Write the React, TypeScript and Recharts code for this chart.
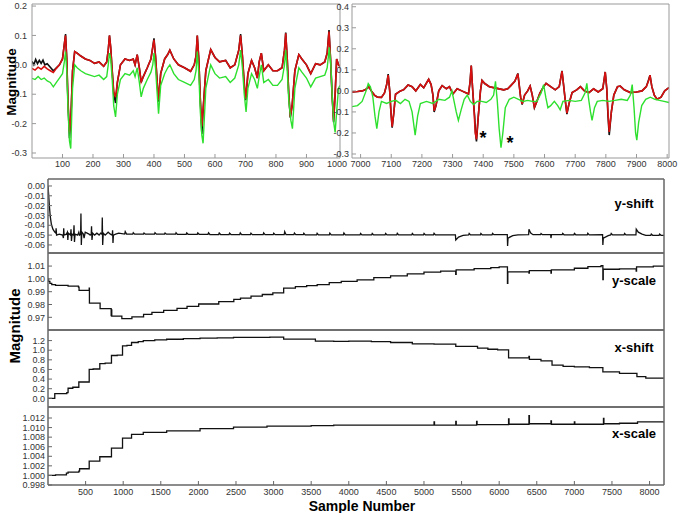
import { LineChart, Line, XAxis, YAxis } from 'recharts';

type Pt = [number, number];

const FONT = '"Liberation Sans", Arial, Helvetica, sans-serif';

// ---- top left window: samples 0..1000 ----
const TL_X_TICKS = [100, 200, 300, 400, 500, 600, 700, 800, 900, 1000];
const TL_Y_TICKS = [-0.3, -0.2, -0.1, 0, 0.1, 0.2];

const TL_BLACK: Pt[] = [
  [0, 0.012], [6, 0.0], [12, 0.018], [18, 0.004], [24, 0.015], [30, 0.005], [36, 0.016], [42, 0.0],
  [50, 0.004], [60, -0.008], [70, -0.02], [80, -0.01], [90, 0.0], [100, 0.02], [106, 0.07], [110, 0.105],
  [114, 0.02], [118, -0.13], [123, -0.25], [128, -0.17], [133, -0.02], [140, 0.045], [148, 0.04],
  [160, 0.03], [175, 0.02], [190, 0.015], [205, 0.005], [220, 0.01], [235, -0.005], [245, 0.01],
  [250, 0.05], [254, 0.1], [258, 0.06], [263, -0.02], [268, -0.1], [274, -0.13], [280, -0.06],
  [290, 0.0], [305, 0.02], [320, 0.015], [332, 0.02], [338, 0.0], [345, 0.035], [352, -0.01],
  [358, -0.06], [365, -0.04], [378, -0.01], [390, 0.02], [396, 0.06], [400, 0.09], [405, 0.03],
  [410, -0.05], [415, -0.125], [422, -0.03], [435, 0.02], [445, 0.035], [452, 0.05], [465, 0.02],
  [480, 0.0], [500, -0.01], [520, -0.022], [532, 0.0], [538, 0.03], [542, 0.1], [547, 0.02],
  [552, -0.12], [557, -0.235], [562, -0.14], [570, -0.02], [586, 0.052], [600, 0.025], [615, 0.01],
  [635, 0.015], [650, -0.01], [665, 0.0], [678, 0.05], [684, 0.105], [690, 0.03], [696, -0.07],
  [701, -0.12], [708, -0.03], [720, 0.015], [730, -0.01], [739, -0.045], [745, 0.01], [752, 0.04],
  [760, -0.02], [775, 0.0], [790, -0.02], [805, -0.02], [820, -0.01], [828, 0.05], [832, 0.11],
  [837, 0.02], [842, -0.1], [847, -0.18], [853, -0.14], [862, -0.02], [875, 0.035], [885, 0.02],
  [900, 0.0], [914, -0.03], [930, 0.004], [945, 0.0], [960, 0.01], [968, 0.04], [974, 0.118],
  [979, 0.02], [984, -0.1], [989, -0.195], [994, -0.1], [999, 0.02], [1005, 0.0], [1010, -0.005],
];

const TL_RED: Pt[] = [
  [0, -0.012], [10, -0.018], [20, -0.008], [30, -0.015], [40, -0.005], [50, -0.014], [60, -0.02],
  [70, -0.026], [80, -0.012], [90, 0.0], [100, 0.02], [106, 0.07], [110, 0.1], [114, 0.02],
  [118, -0.12], [123, -0.23], [128, -0.17], [133, -0.02], [140, 0.045], [148, 0.04], [160, 0.03],
  [175, 0.02], [190, 0.015], [205, 0.005], [220, 0.01], [235, -0.005], [245, 0.01], [250, 0.05],
  [254, 0.1], [258, 0.06], [263, -0.02], [268, -0.09], [274, -0.11], [280, -0.06], [290, 0.0],
  [305, 0.02], [320, 0.015], [332, 0.02], [338, 0.0], [345, 0.035], [352, -0.01], [358, -0.058],
  [365, -0.04], [378, -0.01], [390, 0.02], [396, 0.06], [400, 0.085], [405, 0.03], [410, -0.05],
  [415, -0.12], [422, -0.03], [435, 0.02], [445, 0.035], [452, 0.05], [465, 0.02], [480, 0.0],
  [500, -0.01], [520, -0.022], [532, 0.0], [538, 0.03], [542, 0.1], [547, 0.02], [552, -0.12],
  [557, -0.21], [562, -0.14], [570, -0.02], [586, 0.052], [600, 0.025], [615, 0.01], [635, 0.015],
  [650, -0.01], [665, 0.0], [678, 0.05], [684, 0.1], [690, 0.03], [696, -0.06], [701, -0.115],
  [708, -0.03], [720, 0.015], [730, -0.01], [739, -0.045], [745, 0.01], [752, 0.04], [760, -0.02],
  [775, 0.0], [790, -0.02], [805, -0.02], [820, -0.01], [828, 0.05], [832, 0.107], [837, 0.02],
  [842, -0.1], [847, -0.177], [853, -0.14], [862, -0.02], [875, 0.035], [885, 0.02], [900, 0.0],
  [914, -0.03], [930, 0.004], [945, 0.0], [960, 0.01], [968, 0.04], [974, 0.113], [979, 0.02],
  [984, -0.1], [989, -0.19], [994, -0.1], [999, 0.02], [1005, 0.0], [1010, -0.005],
];

const TL_GREEN: Pt[] = [
  [0, -0.046], [10, -0.05], [20, -0.04], [30, -0.05], [40, -0.045], [50, -0.055], [60, -0.06],
  [70, -0.075], [80, -0.06], [90, -0.045], [100, -0.03], [106, 0.01], [110, 0.045], [114, -0.02],
  [118, -0.15], [123, -0.26], [127, -0.285], [133, -0.08], [140, 0.0], [148, -0.01], [160, -0.02],
  [175, -0.03], [190, -0.035], [205, -0.04], [220, -0.035], [235, -0.05], [245, -0.04], [250, 0.0],
  [254, 0.04], [258, 0.02], [263, -0.05], [268, -0.14], [274, -0.177], [280, -0.1], [290, -0.05],
  [305, -0.03], [320, -0.035], [332, -0.02], [338, -0.04], [345, -0.01], [352, -0.06], [358, -0.109],
  [365, -0.08], [378, -0.05], [390, -0.025], [396, 0.0], [400, 0.04], [405, -0.01], [410, -0.09],
  [415, -0.166], [422, -0.07], [435, -0.03], [445, -0.01], [452, 0.0], [465, -0.03], [480, -0.05],
  [500, -0.06], [520, -0.07], [532, -0.05], [538, -0.02], [542, 0.045], [547, -0.03], [552, -0.16],
  [557, -0.24], [561, -0.267], [570, -0.08], [586, 0.0], [600, -0.03], [615, -0.045], [635, -0.04],
  [650, -0.06], [665, -0.045], [678, 0.0], [684, 0.05], [690, -0.01], [696, -0.1], [702, -0.16],
  [708, -0.08], [720, -0.03], [730, -0.05], [739, -0.08], [745, -0.04], [752, 0.0], [760, -0.06],
  [775, -0.05], [790, -0.07], [805, -0.07], [820, -0.05], [828, 0.0], [832, 0.05], [837, -0.02],
  [842, -0.12], [849, -0.19], [854, -0.217], [862, -0.08], [875, -0.01], [885, -0.025], [900, -0.045],
  [914, -0.075], [930, -0.045], [945, -0.04], [960, -0.035], [968, -0.01], [975, 0.06], [980, 0.0],
  [985, -0.12], [990, -0.2], [994, -0.23], [999, -0.16], [1005, -0.08], [1010, -0.07],
];

// ---- top right window: samples 7000..8000 ----
const TR_X_TICKS = [7000, 7100, 7200, 7300, 7400, 7500, 7600, 7700, 7800, 7900, 8000];
const TR_Y_TICKS = [-0.3, -0.2, -0.1, 0, 0.1, 0.2, 0.3, 0.4];

const TR_BLACK: Pt[] = [
  [6972, -0.005], [6990, -0.003], [7005, 0.0], [7015, 0.005], [7027, 0.019], [7035, 0.0],
  [7045, -0.02], [7055, -0.03], [7068, -0.031], [7078, -0.01], [7085, 0.03], [7090, 0.08],
  [7095, 0.0], [7099, -0.1], [7103, -0.175], [7108, -0.11], [7114, -0.016], [7130, 0.0],
  [7141, 0.006], [7155, 0.028], [7168, 0.02], [7180, 0.0], [7195, 0.03], [7206, 0.015],
  [7222, 0.055], [7230, 0.03], [7236, -0.02], [7240, -0.1], [7246, -0.07], [7255, 0.0],
  [7266, 0.025], [7280, 0.01], [7290, 0.02], [7301, -0.015], [7315, 0.01], [7330, 0.0],
  [7345, -0.01], [7352, -0.015], [7357, 0.04], [7361, 0.12], [7365, 0.02], [7369, -0.07],
  [7372, -0.12], [7375, -0.2], [7378, -0.24], [7384, -0.12], [7391, 0.0], [7396, 0.05],
  [7405, 0.035], [7420, 0.02], [7445, 0.012], [7467, 0.005], [7480, 0.01], [7490, 0.025],
  [7503, 0.045], [7513, 0.083], [7518, 0.02], [7522, -0.03], [7527, -0.065], [7535, -0.02],
  [7545, 0.0], [7553, 0.023], [7560, -0.02], [7567, -0.08], [7575, -0.05], [7585, -0.01],
  [7597, 0.02], [7605, 0.036], [7620, 0.02], [7635, 0.005], [7648, 0.02], [7657, 0.095],
  [7662, 0.03], [7668, -0.05], [7673, -0.11], [7680, -0.06], [7690, -0.008], [7705, 0.005],
  [7717, 0.02], [7730, 0.0], [7745, -0.008], [7760, 0.01], [7775, -0.005], [7790, 0.01],
  [7798, 0.09], [7803, 0.01], [7807, -0.12], [7811, -0.21], [7818, -0.1], [7826, -0.02],
  [7838, 0.02], [7847, 0.023], [7860, 0.005], [7880, -0.008], [7900, -0.005], [7918, 0.0],
  [7932, 0.02], [7940, 0.055], [7944, 0.075], [7950, 0.02], [7958, -0.02], [7967, -0.04],
  [7980, -0.03], [7992, 0.0], [8006, 0.016],
];

const TR_RED: Pt[] = [
  [6972, -0.005], [6990, -0.003], [7005, 0.0], [7015, 0.005], [7027, 0.019], [7035, 0.0],
  [7045, -0.02], [7055, -0.03], [7068, -0.031], [7078, -0.01], [7085, 0.03], [7090, 0.075],
  [7095, 0.0], [7099, -0.1], [7103, -0.17], [7108, -0.11], [7114, -0.016], [7130, 0.0],
  [7141, 0.006], [7155, 0.028], [7168, 0.02], [7180, 0.0], [7195, 0.03], [7206, 0.015],
  [7222, 0.055], [7230, 0.03], [7236, -0.02], [7240, -0.094], [7246, -0.07], [7255, 0.0],
  [7266, 0.025], [7280, 0.01], [7290, 0.02], [7301, -0.015], [7315, 0.01], [7330, 0.0],
  [7345, -0.01], [7352, -0.015], [7357, 0.04], [7361, 0.12], [7365, 0.02], [7369, -0.06],
  [7374, -0.2], [7378, -0.23], [7384, -0.12], [7391, 0.0], [7396, 0.05], [7405, 0.035],
  [7420, 0.02], [7445, 0.012], [7467, 0.005], [7480, 0.01], [7490, 0.025], [7503, 0.045],
  [7513, 0.081], [7518, 0.02], [7522, -0.03], [7527, -0.062], [7535, -0.02], [7545, 0.0],
  [7553, 0.023], [7560, -0.02], [7567, -0.078], [7575, -0.05], [7585, -0.01], [7597, 0.02],
  [7605, 0.036], [7620, 0.02], [7635, 0.005], [7648, 0.02], [7657, 0.094], [7662, 0.03],
  [7668, -0.05], [7673, -0.106], [7680, -0.06], [7690, -0.008], [7705, 0.005], [7717, 0.02],
  [7730, 0.0], [7745, -0.008], [7760, 0.01], [7775, -0.005], [7790, 0.01], [7798, 0.09],
  [7803, 0.01], [7807, -0.1], [7811, -0.195], [7818, -0.1], [7826, -0.02], [7838, 0.02],
  [7847, 0.023], [7860, 0.005], [7880, -0.008], [7900, -0.005], [7918, 0.0], [7932, 0.02],
  [7940, 0.05], [7944, 0.075], [7950, 0.02], [7958, -0.02], [7967, -0.04], [7980, -0.03],
  [7992, 0.0], [8006, 0.016],
];

const TR_GREEN: Pt[] = [
  [6972, -0.075], [6990, -0.07], [7005, -0.05], [7018, 0.0], [7025, 0.035], [7032, 0.02],
  [7040, -0.03], [7047, -0.12], [7053, -0.18], [7060, -0.1], [7068, -0.05], [7085, -0.06],
  [7100, -0.05], [7115, -0.045], [7130, -0.06], [7145, -0.04], [7158, -0.05], [7168, -0.1],
  [7178, -0.21], [7186, -0.12], [7195, -0.06], [7215, -0.05], [7235, -0.06], [7255, -0.04],
  [7275, -0.045], [7290, -0.03], [7298, 0.0], [7305, -0.05], [7312, -0.1], [7319, -0.14],
  [7328, -0.09], [7338, -0.04], [7348, -0.02], [7358, -0.05], [7369, -0.065], [7380, -0.05],
  [7395, -0.05], [7410, -0.055], [7425, -0.04], [7434, -0.02], [7440, 0.045], [7446, -0.05],
  [7452, -0.18], [7458, -0.27], [7464, -0.2], [7472, -0.08], [7485, -0.04], [7500, -0.03],
  [7515, -0.04], [7530, -0.05], [7545, -0.045], [7560, -0.05], [7575, -0.05], [7589, -0.01],
  [7597, 0.03], [7604, -0.03], [7611, -0.08], [7620, -0.07], [7632, -0.05], [7643, -0.07],
  [7651, -0.09], [7660, -0.05], [7680, -0.045], [7700, -0.05], [7720, -0.045], [7732, -0.01],
  [7738, 0.036], [7744, -0.04], [7750, -0.1], [7755, -0.14], [7763, -0.08], [7772, -0.05],
  [7790, -0.045], [7810, -0.05], [7830, -0.045], [7850, -0.04], [7870, -0.045], [7880, -0.02],
  [7886, 0.03], [7892, -0.08], [7897, -0.2], [7901, -0.234], [7907, -0.15], [7917, -0.07],
  [7930, -0.04], [7945, -0.03], [7960, -0.04], [7975, -0.045], [7990, -0.05], [8006, -0.055],
];

// ---- bottom stack: parameters against sample number ----
const SAMPLE_TICKS = [500, 1000, 1500, 2000, 2500, 3000, 3500, 4000, 4500, 5000, 5500, 6000, 6500, 7000, 7500, 8000];
const YSHIFT_TICKS = [-0.06, -0.05, -0.04, -0.03, -0.02, -0.01, 0];
const YSCALE_TICKS = [0.97, 0.98, 0.99, 1.0, 1.01];
const XSHIFT_TICKS = [0, 0.2, 0.4, 0.6, 0.8, 1.0, 1.2];
const XSCALE_TICKS = [0.998, 1.0, 1.002, 1.004, 1.006, 1.008, 1.01, 1.012];

const Y_SHIFT: Pt[] = [
  [0, 0.0], [8, -0.008], [18, -0.02], [30, -0.031], [45, -0.039], [65, -0.044], [90, -0.047],
  [104, -0.048], [108, -0.043], [114, -0.05], [150, -0.049], [195, -0.05], [205, -0.053],
  [209, -0.043], [214, -0.05], [245, -0.049], [258, -0.047], [264, -0.055], [270, -0.048],
  [300, -0.05], [306, -0.044], [312, -0.056], [320, -0.049], [340, -0.05], [346, -0.04],
  [352, -0.057], [360, -0.049], [395, -0.05], [410, -0.047], [420, -0.05], [434, -0.049],
  [438, -0.028], [443, -0.06], [450, -0.047], [470, -0.049], [480, -0.053], [495, -0.047],
  [520, -0.048], [545, -0.049], [560, -0.05], [575, -0.049], [579, -0.041], [585, -0.055],
  [595, -0.048], [620, -0.05], [650, -0.048], [680, -0.05], [700, -0.048], [718, -0.049],
  [722, -0.032], [727, -0.06], [735, -0.048], [760, -0.05], [800, -0.047], [830, -0.049],
  [855, -0.05], [859, -0.045], [864, -0.058], [870, -0.05], [900, -0.049], [940, -0.048],
  [1020, -0.049], [1027, -0.0465], [1045, -0.049],
  [1127, -0.049], [1134, -0.0475], [1152, -0.049], [1270, -0.049], [1277, -0.0478], [1295, -0.049],
  [1416, -0.049], [1423, -0.0475], [1441, -0.049], [1550, -0.049], [1557, -0.0478], [1575, -0.049],
  [1696, -0.049], [1703, -0.0476], [1721, -0.0492], [1838, -0.0492], [1845, -0.0478], [1863, -0.0492],
  [1985, -0.0492], [1992, -0.0478], [2010, -0.0492], [2128, -0.0492], [2135, -0.0477], [2153, -0.0494],
  [2270, -0.0494], [2277, -0.0478], [2295, -0.0494], [2408, -0.0494], [2415, -0.048], [2433, -0.0494],
  [2550, -0.0494], [2557, -0.0478], [2575, -0.0495], [2692, -0.0495], [2699, -0.048], [2717, -0.0495],
  [2861, -0.0495], [2868, -0.0478], [2886, -0.0495], [2995, -0.0495], [3002, -0.0481], [3020, -0.0495],
  [3141, -0.0495], [3148, -0.0465], [3166, -0.0496], [3270, -0.0496], [3277, -0.048], [3295, -0.0496],
  [3395, -0.0496], [3402, -0.0481], [3420, -0.0498], [3572, -0.0498], [3579, -0.0482], [3597, -0.0498],
  [3741, -0.0498], [3748, -0.048], [3766, -0.0498], [3928, -0.0498], [3935, -0.0479], [3953, -0.0498],
  [4150, -0.0498], [4157, -0.0483], [4175, -0.0498], [4305, -0.0498], [4312, -0.0483], [4330, -0.0498],
  [4483, -0.0498], [4490, -0.0483], [4508, -0.0498], [4638, -0.0498], [4645, -0.0482], [4663, -0.0498],
  [4838, -0.0498], [4845, -0.0483], [4863, -0.0498], [4994, -0.0498], [5001, -0.0483], [5019, -0.0498],
  [5127, -0.0498], [5134, -0.0482], [5152, -0.0498], [5418, -0.0498], [5423, -0.055], [5460, -0.052],
  [5520, -0.0503], [5594, -0.0498], [5601, -0.0484], [5619, -0.0498], [5750, -0.0498], [5757, -0.0483],
  [5775, -0.0498], [5905, -0.0498], [5912, -0.0483], [5930, -0.0496], [6108, -0.0495], [6112, -0.061],
  [6118, -0.053], [6180, -0.0505], [6250, -0.0498], [6392, -0.0495], [6396, -0.044], [6420, -0.048],
  [6450, -0.0496], [6550, -0.0496], [6557, -0.0484], [6575, -0.0496], [6685, -0.0496], [6689, -0.053],
  [6695, -0.0496], [6838, -0.0496], [6845, -0.0483], [6863, -0.0497], [6994, -0.0497], [7001, -0.0483],
  [7019, -0.0497], [7172, -0.0497], [7179, -0.0482], [7197, -0.0497], [7375, -0.0496], [7379, -0.06],
  [7385, -0.053], [7450, -0.0505], [7483, -0.0498], [7490, -0.0484], [7508, -0.0498], [7661, -0.0498],
  [7668, -0.0483], [7686, -0.0498], [7819, -0.0498], [7823, -0.044], [7850, -0.047], [7900, -0.049],
  [7950, -0.0503], [8016, -0.0502], [8023, -0.049], [8041, -0.0502], [8127, -0.0502], [8134, -0.049],
  [8152, -0.0502], [8192, -0.0502],
];

const Y_SCALE: Pt[] = [
  [0, 1.0], [8, 0.998], [25, 0.9965], [50, 0.9955], [100, 0.995], [267, 0.9943], [405, 0.9935],
  [413, 0.991], [548, 0.9928], [551, 0.981], [693, 0.9768], [840, 0.9713], [844, 0.9758],
  [848, 0.971], [982, 0.969], [1116, 0.9703], [1271, 0.9723], [1382, 0.9739], [1538, 0.9754],
  [1716, 0.977], [1849, 0.9786], [2004, 0.9804], [2271, 0.9823], [2471, 0.984], [2560, 0.985],
  [2700, 0.9865], [2850, 0.9878], [2990, 0.989], [3134, 0.9928], [3290, 0.994], [3440, 0.9948],
  [3580, 0.9955], [3740, 0.997], [3900, 0.998], [4111, 0.9992], [4333, 1.001], [4556, 1.0023],
  [4778, 1.0039], [5000, 1.0052], [5222, 1.006], [5422, 1.0035], [5428, 1.007], [5667, 1.008],
  [5889, 1.0088], [6000, 1.0093], [6110, 0.9966], [6115, 1.0055], [6396, 1.0045], [6401, 1.0065],
  [6689, 1.0045], [6694, 1.007], [7000, 1.0083], [7180, 1.0095], [7355, 1.0104], [7379, 0.9995],
  [7384, 1.0075], [7600, 1.0078], [7822, 1.006], [7827, 1.0094], [8050, 1.01], [8192, 1.0103],
];

const X_SHIFT: Pt[] = [
  [0, 0.0], [90, 0.1], [250, 0.12], [267, 0.21], [330, 0.23], [410, 0.34], [548, 0.6],
  [600, 0.61], [689, 0.72], [760, 0.73], [844, 0.89], [920, 0.9], [991, 1.09], [1050, 1.1],
  [1111, 1.16], [1200, 1.18], [1267, 1.2], [1420, 1.215], [1578, 1.228], [1800, 1.24],
  [2022, 1.25], [2250, 1.256], [2467, 1.265], [2700, 1.268], [2950, 1.27], [3134, 1.232],
  [3350, 1.23], [3556, 1.19], [3800, 1.185], [4000, 1.19], [4300, 1.18], [4556, 1.16],
  [4845, 1.13], [5134, 1.125], [5423, 1.08], [5712, 1.045], [5850, 1.02], [5979, 1.005],
  [6125, 0.84], [6396, 0.87], [6402, 0.81], [6556, 0.78], [6703, 0.69], [6850, 0.665],
  [7000, 0.655], [7200, 0.64], [7379, 0.55], [7600, 0.52], [7832, 0.45], [7950, 0.42], [8192, 0.41],
];

const X_SCALE: Pt[] = [
  [0, 1.0], [100, 1.0001], [245, 1.0005], [267, 1.0007], [410, 1.0009], [420, 1.0014],
  [548, 1.003], [689, 1.0039], [844, 1.0057], [991, 1.0078], [1111, 1.0086], [1267, 1.009],
  [1578, 1.0093], [2022, 1.0098], [2467, 1.0101], [2912, 1.0103], [3500, 1.0104], [3800, 1.0105],
  [5134, 1.0112], [5140, 1.0105], [5423, 1.0113], [5429, 1.0105], [5700, 1.0113], [5706, 1.0106],
  [6125, 1.0118], [6131, 1.0107], [6396, 1.0125], [6402, 1.0108], [6689, 1.0114], [6695, 1.0107],
  [7000, 1.0112], [7006, 1.0107], [7387, 1.0119], [7393, 1.0108], [7600, 1.0109], [7840, 1.0112],
  [8192, 1.011],
];

const TICK = { fontSize: 9, fill: '#333', fontFamily: FONT };

interface Series {
  pts: Pt[];
  color: string;
  width: number;
  type?: 'linear' | 'stepAfter';
}

interface PanelProps {
  left: number;
  top: number;
  width: number;
  height: number;
  margin: { top: number; right: number; bottom: number; left: number };
  xDomain: [number, number];
  xTicks: number[];
  xLabels: boolean;
  xHeight: number;
  xTickMargin?: number;
  yDomain: [number, number];
  yTicks: number[];
  yWidth: number;
  yTickMargin: number;
  yFormat: (v: number) => string;
  frame: string;
  frameWidth: number;
  mirror: boolean;
  series: Series[];
}

function Panel(p: PanelProps) {
  const axisLine = { stroke: p.frame, strokeWidth: p.frameWidth };
  const tickLine = { stroke: p.frame, strokeWidth: 1 };
  return (
    <div style={{ position: 'absolute', left: p.left, top: p.top }}>
      <LineChart width={p.width} height={p.height} margin={p.margin}>
        <XAxis
          xAxisId="b"
          type="number"
          dataKey="x"
          domain={p.xDomain}
          allowDataOverflow
          ticks={p.xTicks}
          interval={0}
          height={p.xHeight}
          axisLine={axisLine}
          tickLine={tickLine}
          tickSize={-4}
          tickMargin={p.xTickMargin ?? 7}
          tick={p.xLabels ? TICK : false}
        />
        <XAxis
          xAxisId="t"
          orientation="top"
          type="number"
          dataKey="x"
          domain={p.xDomain}
          allowDataOverflow
          ticks={p.xTicks}
          interval={0}
          height={1}
          axisLine={axisLine}
          tickLine={p.mirror ? tickLine : false}
          tickSize={-4}
          tick={false}
        />
        <YAxis
          yAxisId="l"
          type="number"
          domain={p.yDomain}
          allowDataOverflow
          ticks={p.yTicks}
          interval={0}
          width={p.yWidth}
          axisLine={axisLine}
          tickLine={tickLine}
          tickSize={-4}
          tickMargin={p.yTickMargin}
          tick={TICK}
          tickFormatter={p.yFormat}
        />
        <YAxis
          yAxisId="r"
          orientation="right"
          type="number"
          domain={p.yDomain}
          allowDataOverflow
          ticks={p.yTicks}
          interval={0}
          width={1}
          axisLine={axisLine}
          tickLine={p.mirror ? tickLine : false}
          tickSize={-4}
          tick={false}
        />
        {p.series.map((s, i) => (
          <Line
            key={i}
            xAxisId="b"
            yAxisId="l"
            data={s.pts.map(([x, v]) => ({ x, v }))}
            dataKey="v"
            type={s.type ?? 'linear'}
            stroke={s.color}
            strokeWidth={s.width}
            dot={false}
            activeDot={false}
            isAnimationActive={false}
          />
        ))}
      </LineChart>
    </div>
  );
}

function Text(props: { text: string; x: number; y: number; size: number; rotate?: boolean }) {
  return (
    <div
      style={{
        position: 'absolute',
        left: props.x,
        top: props.y,
        transform: `translate(-50%, -50%)${props.rotate ? ' rotate(-90deg)' : ''}`,
        fontFamily: FONT,
        fontWeight: 'bold',
        fontSize: props.size,
        lineHeight: 1,
        whiteSpace: 'nowrap',
        color: '#000',
      }}
    >
      {props.text}
    </div>
  );
}

const BLACK = '#111';
const RED = '#d80f0f';
const GREEN = '#2ee02e';

const f1 = (v: number) => v.toFixed(1);
const f2 = (v: number) => v.toFixed(2);
const f3 = (v: number) => v.toFixed(3);

export default function App() {
  const bottomX: [number, number] = [0, 8192];
  return (
    <div style={{ position: 'absolute', left: 0, top: 0, width: 685, height: 513, background: '#fff', overflow: 'hidden' }}>
      <Panel
        left={0} top={0} width={355} height={175}
        margin={{ top: 3, right: 14, bottom: 0, left: 0 }}
        xDomain={[0, 1010]} xTicks={TL_X_TICKS} xLabels xHeight={17}
        yDomain={[-0.317, 0.207]} yTicks={TL_Y_TICKS} yWidth={32} yTickMargin={9} yFormat={f1}
        frame="#999" frameWidth={1} mirror={false}
        series={[
          { pts: TL_BLACK, color: BLACK, width: 1.6 },
          { pts: TL_RED, color: RED, width: 1.6 },
          { pts: TL_GREEN, color: GREEN, width: 1.4 },
        ]}
      />
      <Panel
        left={326} top={0} width={359} height={175}
        margin={{ top: 3, right: 15, bottom: 0, left: 0 }}
        xDomain={[6972, 8006]} xTicks={TR_X_TICKS} xLabels xHeight={17}
        yDomain={[-0.319, 0.413]} yTicks={TR_Y_TICKS} yWidth={26} yTickMargin={7} yFormat={f1}
        frame="#999" frameWidth={1} mirror={false}
        series={[
          { pts: TR_BLACK, color: BLACK, width: 1.6 },
          { pts: TR_RED, color: RED, width: 1.6 },
          { pts: TR_GREEN, color: GREEN, width: 1.4 },
        ]}
      />
      <Panel
        left={0} top={174} width={673} height={84}
        margin={{ top: 4, right: 8, bottom: 4, left: 0 }}
        xDomain={bottomX} xTicks={SAMPLE_TICKS} xLabels={false} xHeight={1}
        yDomain={[-0.0682, 0.0071]} yTicks={YSHIFT_TICKS} yWidth={48} yTickMargin={7} yFormat={f2}
        frame="#666" frameWidth={1.5} mirror
        series={[{ pts: Y_SHIFT, color: BLACK, width: 1.3 }]}
      />
      <Panel
        left={0} top={248} width={673} height={87}
        margin={{ top: 4, right: 8, bottom: 4, left: 0 }}
        xDomain={bottomX} xTicks={SAMPLE_TICKS} xLabels={false} xHeight={1}
        yDomain={[0.9601, 1.0202]} yTicks={YSCALE_TICKS} yWidth={48} yTickMargin={7} yFormat={f2}
        frame="#666" frameWidth={1.5} mirror
        series={[{ pts: Y_SCALE, color: BLACK, width: 1.3, type: 'stepAfter' }]}
      />
      <Panel
        left={0} top={325} width={673} height={87}
        margin={{ top: 4, right: 8, bottom: 4, left: 0 }}
        xDomain={bottomX} xTicks={SAMPLE_TICKS} xLabels={false} xHeight={1}
        yDomain={[-0.18, 1.42]} yTicks={XSHIFT_TICKS} yWidth={48} yTickMargin={7} yFormat={f1}
        frame="#666" frameWidth={1.5} mirror
        series={[{ pts: X_SHIFT, color: BLACK, width: 1.3, type: 'stepAfter' }]}
      />
      <Panel
        left={0} top={402} width={673} height={107}
        margin={{ top: 4, right: 8, bottom: 0, left: 0 }}
        xDomain={bottomX} xTicks={SAMPLE_TICKS} xLabels xHeight={24} xTickMargin={8}
        yDomain={[0.998, 1.0143]} yTicks={XSCALE_TICKS} yWidth={48} yTickMargin={7} yFormat={f3}
        frame="#666" frameWidth={1.5} mirror
        series={[{ pts: X_SCALE, color: BLACK, width: 1.3, type: 'stepAfter' }]}
      />

      <Text text="Magnitude" x={12} y={82} size={13.5} rotate />
      <Text text="Magnitude" x={14} y={326} size={15} rotate />
      <Text text="Sample Number" x={362} y={506} size={14} />
      <Text text="y-shift" x={634} y={203} size={13} />
      <Text text="y-scale" x={634} y={280} size={13} />
      <Text text="x-shift" x={634} y={347} size={13} />
      <Text text="x-scale" x={634} y={433} size={13} />
      <Text text="*" x={483} y={138} size={18} />
      <Text text="*" x={510} y={143} size={18} />
    </div>
  );
}
